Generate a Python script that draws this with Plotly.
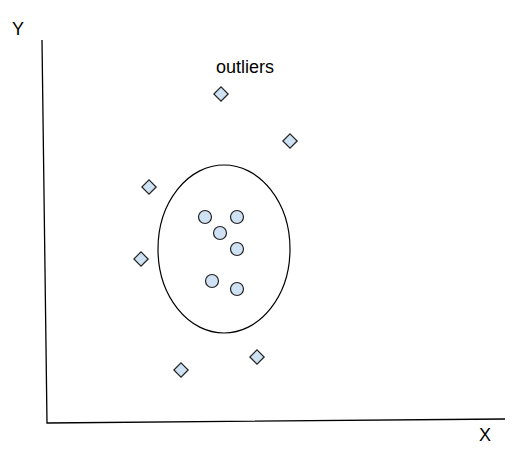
import plotly.graph_objects as go

# positions in picture units (x right, y down)
inlier_x = [205, 237, 220, 237, 212, 237]
inlier_y = [217, 217, 233, 249, 281, 289]

outlier_x = [221, 290, 149, 141, 181, 257]
outlier_y = [94, 141, 187, 259, 370, 357]

axis_x = [42, 47, 505]
axis_y = [40, 423, 419]

cluster_box = [158, 165, 290, 333]  # x0, y0, x1, y1

FILL = '#cfe2f3'
EDGE = '#222222'

fig = go.Figure()

fig.add_trace(go.Scatter(x=axis_x, y=axis_y, mode='lines',
                         line=dict(color='black', width=1.3),
                         hoverinfo='skip'))

fig.add_shape(type='circle', xref='x', yref='y',
              x0=cluster_box[0], y0=cluster_box[1],
              x1=cluster_box[2], y1=cluster_box[3],
              line=dict(color='black', width=1.2))

fig.add_trace(go.Scatter(x=inlier_x, y=inlier_y, mode='markers',
                         marker=dict(symbol='circle', size=13, color=FILL,
                                     line=dict(color=EDGE, width=1.2))))

fig.add_trace(go.Scatter(x=outlier_x, y=outlier_y, mode='markers',
                         marker=dict(symbol='diamond', size=11, color=FILL,
                                     line=dict(color=EDGE, width=1.2))))

labels = [('Y', 18, 29), ('X', 485, 435), ('outliers', 245, 67)]
for txt, lx, ly in labels:
    fig.add_annotation(x=lx, y=ly, xref='x', yref='y', text=txt,
                       showarrow=False,
                       font=dict(family='Liberation Sans, Arial', size=18, color='black'))

# page body has an 8px margin, so the figure starts at (8, 8)
fig.update_layout(width=520, height=442, showlegend=False,
                  margin=dict(l=0, r=0, t=0, b=0),
                  plot_bgcolor='white', paper_bgcolor='white')
fig.update_xaxes(range=[8, 528], visible=False)
fig.update_yaxes(range=[450, 8], visible=False)

fig.write_html('out.html')
